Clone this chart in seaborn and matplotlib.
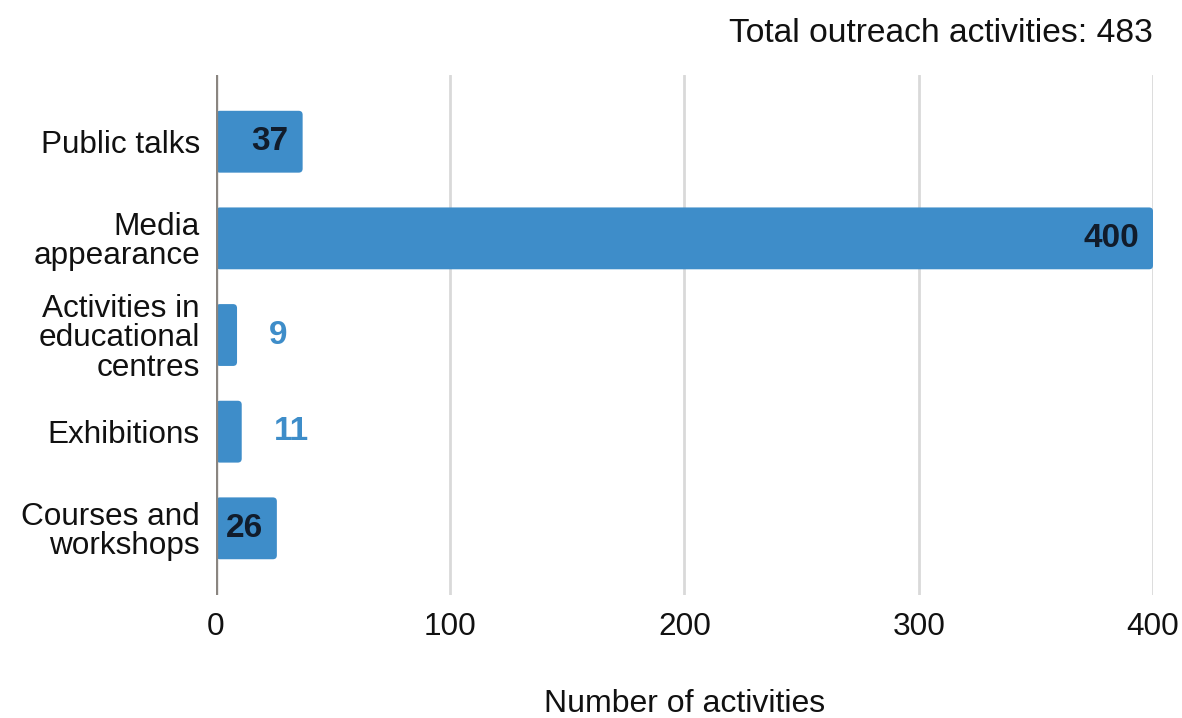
import matplotlib
matplotlib.use("Agg")
import matplotlib.pyplot as plt
from matplotlib.patches import FancyBboxPatch
import seaborn as sns
import pandas as pd

# Outreach activity counts by type
categories = ["Public talks", "Media\nappearance", "Activities in\neducational\ncentres",
              "Exhibitions", "Courses and\nworkshops"]
counts = [37, 400, 9, 11, 26]
x_ticks = [0, 100, 200, 300, 400]
total_label = "Total outreach activities: 483"
x_title = "Number of activities"

BAR = "#3e8dc9"
INSIDE_TXT = "#111c2b"
TXT = "#111111"

sns.set_theme(style="white")
plt.rcParams["font.family"] = ["Liberation Sans", "DejaVu Sans"]

df = pd.DataFrame({"category": categories, "count": counts})

fig = plt.figure(figsize=(11.82, 7.18), dpi=100)
ax = fig.add_axes([0.1827, 0.1713, 0.7928, 0.7242])

sns.barplot(data=df, x="count", y="category", color=BAR, saturation=1,
            width=0.64, ax=ax, zorder=3)

# replace the plain rectangles with slightly rounded ones
px_x = (0.7928 * 1182) / 400.0
px_y = (0.7242 * 718) / 5.38
r = 4.0
for p in list(ax.patches):
    x0, y0 = p.get_x(), p.get_y()
    w, h = p.get_width(), p.get_height()
    fb = FancyBboxPatch((x0, y0), w, h,
                        boxstyle=f"round,pad=0,rounding_size={r / px_x}",
                        mutation_aspect=(r / px_y) / (r / px_x),
                        facecolor=BAR, edgecolor="none", zorder=3)
    p.remove()
    ax.add_patch(fb)

ax.set_xlim(0, 400)
ax.set_ylim(4.69, -0.69)
ax.set_xticks(x_ticks)
ax.set_xticklabels([str(t) for t in x_ticks])
for t in x_ticks[1:]:
    ax.axvline(t, color="#d9d9d9", lw=2, zorder=1)
ax.axvline(0, color="#8a8580", lw=2.4, zorder=4)

for s in ax.spines.values():
    s.set_visible(False)
ax.tick_params(axis="both", length=0, labelsize=22.7, colors=TXT)
ax.tick_params(axis="x", pad=12)
ax.tick_params(axis="y", pad=11.5)
for lbl in ax.get_yticklabels():
    lbl.set_linespacing(0.98)
ax.set_ylabel("")
ax.set_xlabel(x_title, fontsize=23, color=TXT, labelpad=34)

for i, v in enumerate(counts):
    if v >= 20:
        ax.text(v - 14 / px_x, i, str(v), ha="right", va="center",
                fontsize=24, fontweight="bold", color=INSIDE_TXT, zorder=5)
    else:
        ax.text(v + 32 / px_x, i, str(v), ha="left", va="center",
                fontsize=24, fontweight="bold", color=BAR, zorder=5)

fig.text(1153 / 1182, 1 - 34 / 718, total_label, ha="right", va="center",
         fontsize=24.2, color=TXT)

fig.savefig("out.png", dpi=100, facecolor="white")
